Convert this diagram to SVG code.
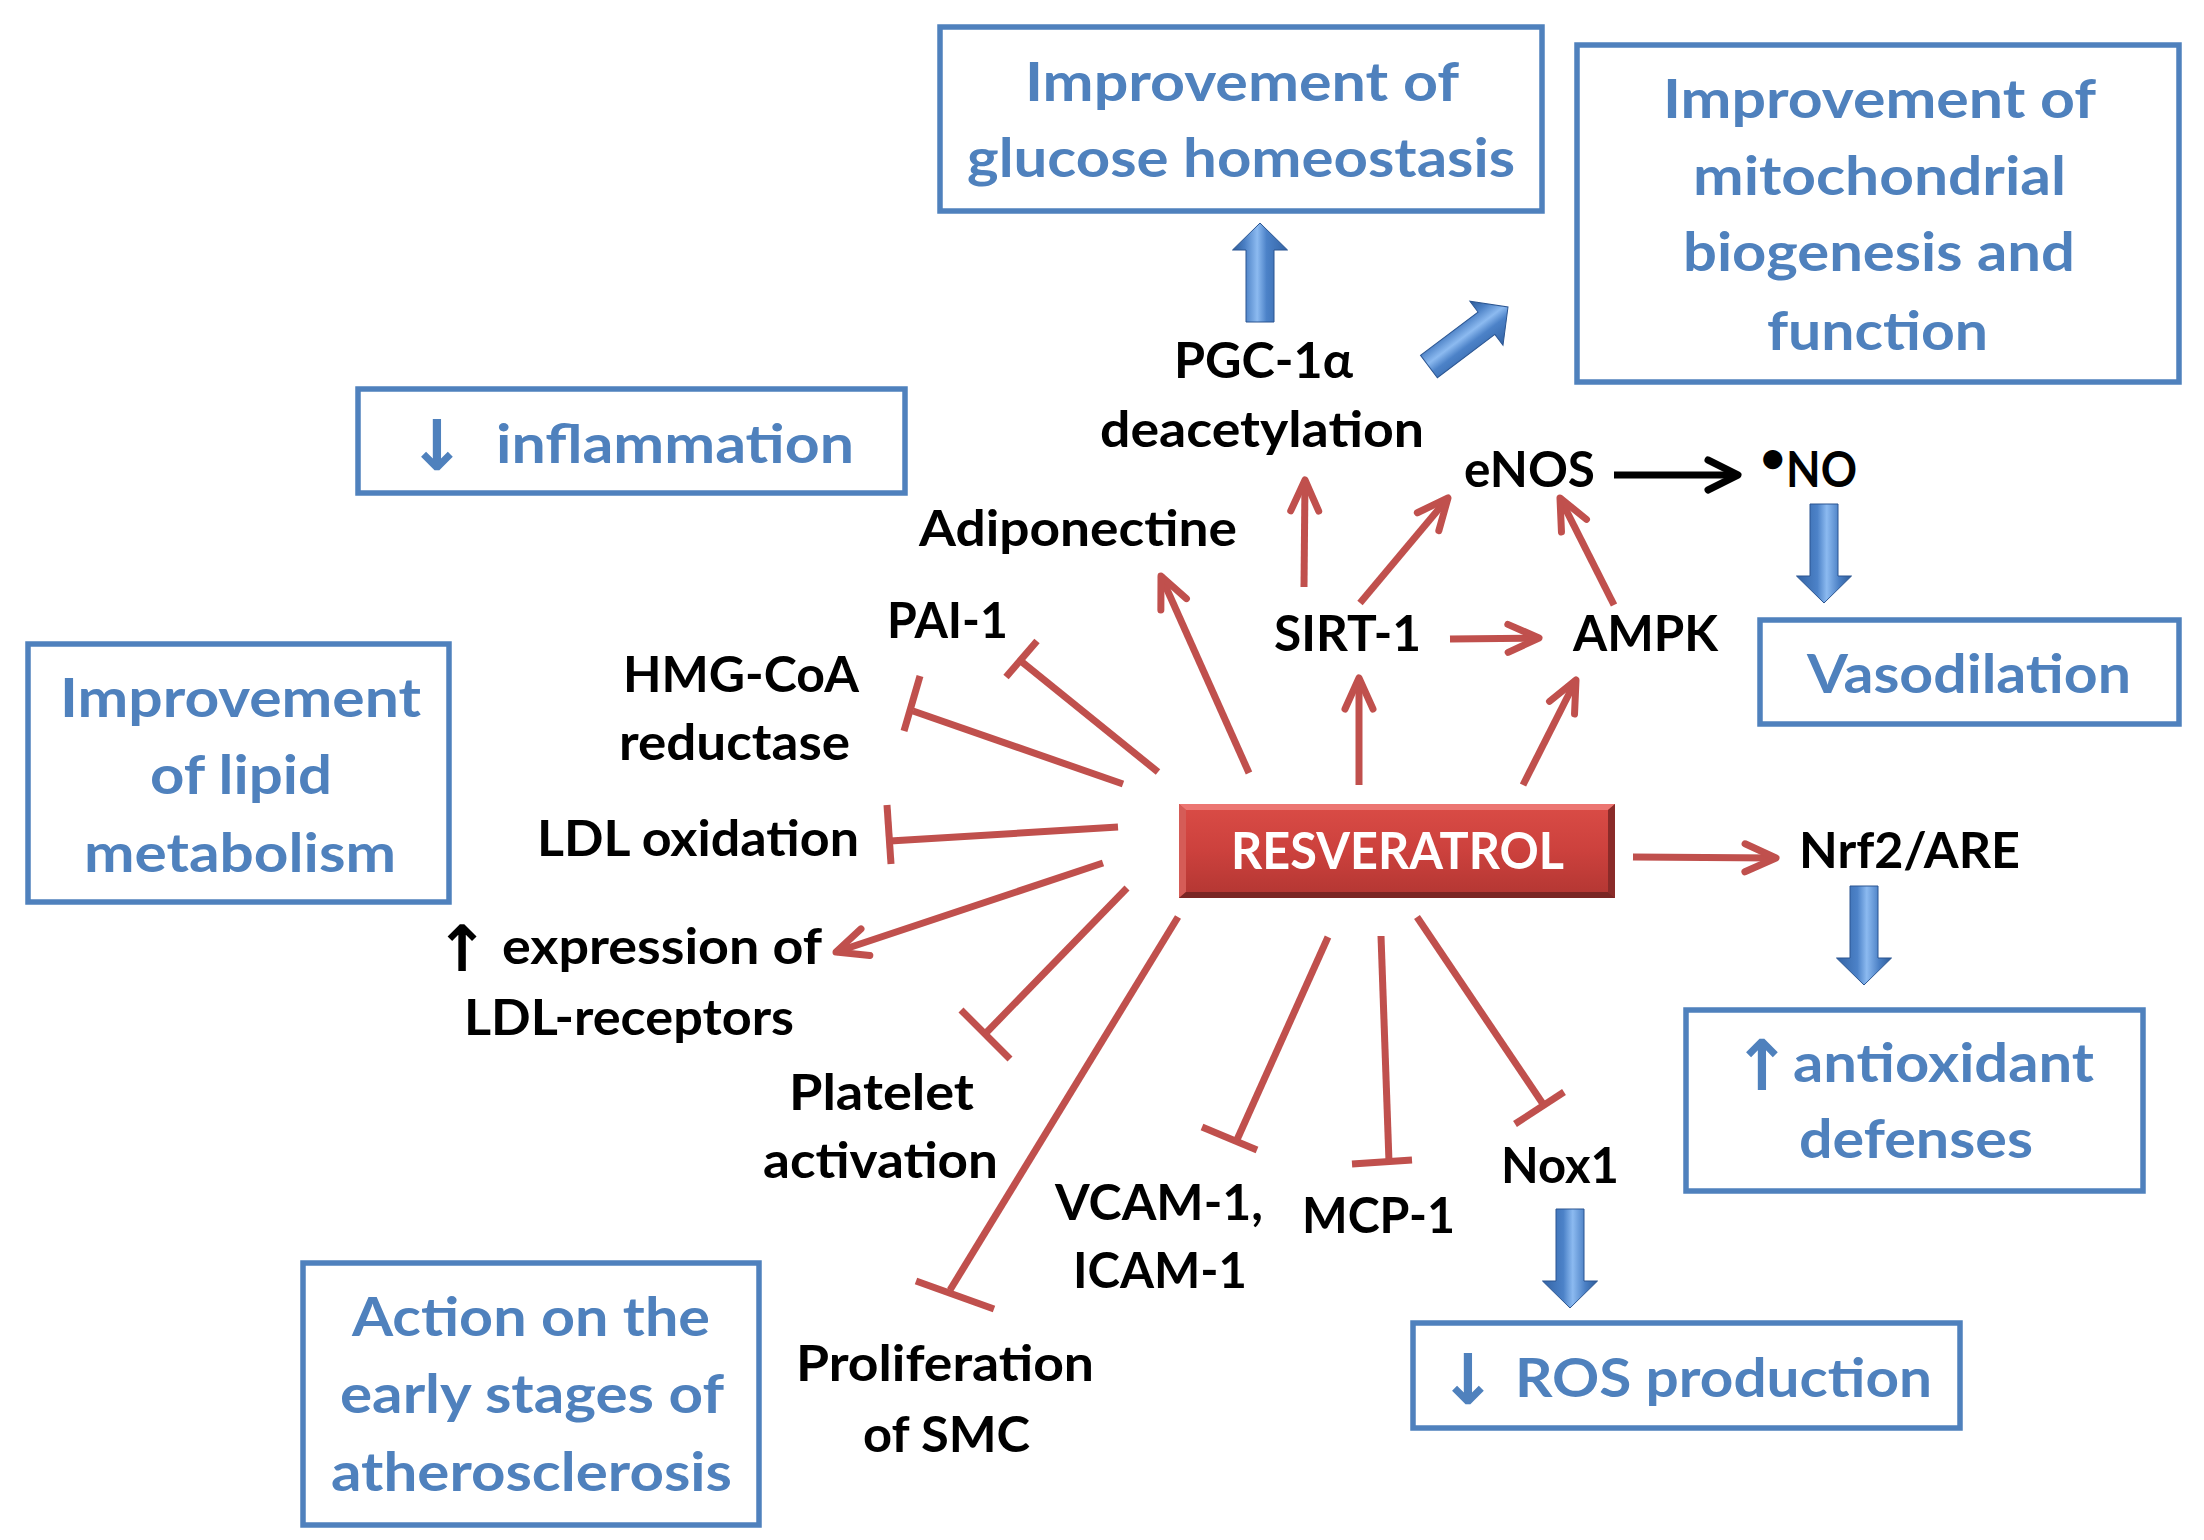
<svg xmlns="http://www.w3.org/2000/svg" xmlns:xlink="http://www.w3.org/1999/xlink" width="2204" height="1540" viewBox="0 0 2204 1540">
<style>
.blue{font-family:Lato,"Open Sans","Liberation Sans",sans-serif;font-weight:700;font-size:54px;fill:#4F81BD}
.blk{font-family:Lato,"Open Sans","Liberation Sans",sans-serif;font-weight:700;font-size:50px;fill:#000}
.wht{font-family:Lato,"Open Sans","Liberation Sans",sans-serif;font-weight:700;font-size:52px;fill:#fff}
.sym{font-family:"DejaVu Sans",sans-serif;font-weight:700;font-size:70px}
.box{fill:#fff;stroke:#4F81BD;stroke-width:5.5}
.act{fill:none;stroke:#C0504D;stroke-width:7;marker-end:url(#ah)}
.inh{fill:none;stroke:#C0504D;stroke-width:7}
.kact{fill:none;stroke:#000;stroke-width:7;marker-end:url(#ahk)}
.barrow{fill:url(#bgrad);stroke:#2B5591;stroke-width:1}
</style>
<defs>
<marker id="ah" markerUnits="userSpaceOnUse" orient="auto" refX="0" refY="0" markerWidth="80" markerHeight="80" overflow="visible">
<path d="M-31,-14 L0,0 L-31,14" fill="none" stroke="#C0504D" stroke-width="7" stroke-linecap="round" stroke-linejoin="round"/>
</marker>
<marker id="ahk" markerUnits="userSpaceOnUse" orient="auto" refX="0" refY="0" markerWidth="80" markerHeight="80" overflow="visible">
<path d="M-30,-15 L0,0 L-30,15" fill="none" stroke="#000" stroke-width="7" stroke-linecap="round" stroke-linejoin="round"/>
</marker>
<linearGradient id="bgrad" x1="0" y1="0" x2="1" y2="0">
<stop offset="0" stop-color="#2C5A96"/>
<stop offset="0.22" stop-color="#4A7FC4"/>
<stop offset="0.45" stop-color="#8CBAF0"/>
<stop offset="0.62" stop-color="#4C82C8"/>
<stop offset="1" stop-color="#3363A4"/>
</linearGradient>
<linearGradient id="rgrad" x1="0" y1="0" x2="0" y2="1">
<stop offset="0" stop-color="#DA4C46"/>
<stop offset="0.5" stop-color="#CC413D"/>
<stop offset="1" stop-color="#B23632"/>
</linearGradient>
<path id="blockarrow" d="M0,0 L27.5,27 L14,27 L14,99 L-14,99 L-14,27 L-27.5,27 Z"/>
</defs>
<rect width="2204" height="1540" fill="#fff"/>

<g id="connectors">
<line class="act" x1="1249" y1="773" x2="1161" y2="576"/>
<line class="act" x1="1359" y1="785" x2="1359" y2="678"/>
<line class="act" x1="1523" y1="785" x2="1576" y2="680"/>
<line class="act" x1="1304" y1="587" x2="1305" y2="480"/>
<line class="act" x1="1360" y1="603" x2="1448" y2="498"/>
<line class="act" x1="1450" y1="639" x2="1539" y2="638"/>
<line class="act" x1="1614" y1="605" x2="1560" y2="498"/>
<line class="act" x1="1633" y1="857" x2="1776" y2="858"/>
<line class="act" x1="1103" y1="863" x2="836" y2="952"/>
<line class="kact" x1="1614" y1="475" x2="1738" y2="475"/>

<line class="inh" x1="1158" y1="772" x2="1022" y2="662"/>
<line class="inh" x1="1006" y1="677" x2="1037" y2="641"/>
<line class="inh" x1="1123" y1="784" x2="913" y2="711"/>
<line class="inh" x1="904" y1="731" x2="920" y2="676"/>
<line class="inh" x1="1118" y1="827" x2="890" y2="841"/>
<line class="inh" x1="891" y1="864" x2="887" y2="805"/>
<line class="inh" x1="1127" y1="888" x2="985" y2="1034"/>
<line class="inh" x1="961" y1="1010" x2="1010" y2="1059"/>
<line class="inh" x1="1178" y1="917" x2="950" y2="1290"/>
<line class="inh" x1="916" y1="1281" x2="994" y2="1309"/>
<line class="inh" x1="1328" y1="937" x2="1236" y2="1142"/>
<line class="inh" x1="1202" y1="1127" x2="1257" y2="1150"/>
<line class="inh" x1="1381" y1="936" x2="1389" y2="1162"/>
<line class="inh" x1="1352" y1="1164" x2="1412" y2="1160"/>
<line class="inh" x1="1417" y1="917" x2="1543" y2="1104"/>
<line class="inh" x1="1515" y1="1124" x2="1564" y2="1092"/>

<use xlink:href="#blockarrow" class="barrow" transform="translate(1260,223)"/>
<use xlink:href="#blockarrow" class="barrow" transform="translate(1508,307) rotate(53)"/>
<use xlink:href="#blockarrow" class="barrow" transform="translate(1824,603) rotate(180)"/>
<use xlink:href="#blockarrow" class="barrow" transform="translate(1864,985) rotate(180)"/>
<use xlink:href="#blockarrow" class="barrow" transform="translate(1570,1308) rotate(180)"/>
</g>

<g id="node-glucose">
<rect class="box" x="940" y="27" width="602" height="184"/>
<text class="blue" x="1025" y="101" textLength="434" lengthAdjust="spacingAndGlyphs">Improvement of</text>
<text class="blue" x="967" y="177" textLength="548" lengthAdjust="spacingAndGlyphs">glucose homeostasis</text>
</g>

<g id="node-mitochondrial">
<rect class="box" x="1577" y="45" width="602" height="337"/>
<text class="blue" x="1663" y="118" textLength="433" lengthAdjust="spacingAndGlyphs">Improvement of</text>
<text class="blue" x="1693" y="195" textLength="373" lengthAdjust="spacingAndGlyphs">mitochondrial</text>
<text class="blue" x="1683" y="271" textLength="392" lengthAdjust="spacingAndGlyphs">biogenesis and</text>
<text class="blue" x="1767" y="350" textLength="221" lengthAdjust="spacingAndGlyphs">function</text>
</g>

<g id="node-inflammation">
<rect class="box" x="358" y="389" width="547" height="104"/>
<text class="blue sym" x="437" y="470" text-anchor="middle">↓</text>
<text class="blue" x="496" y="463" textLength="358" lengthAdjust="spacingAndGlyphs">inflammation</text>
</g>

<g id="node-lipid">
<rect class="box" x="28" y="644" width="421" height="258"/>
<text class="blue" x="60" y="717" textLength="361" lengthAdjust="spacingAndGlyphs">Improvement</text>
<text class="blue" x="150" y="794" textLength="182" lengthAdjust="spacingAndGlyphs">of lipid</text>
<text class="blue" x="84" y="872" textLength="312" lengthAdjust="spacingAndGlyphs">metabolism</text>
</g>

<g id="node-vasodilation">
<rect class="box" x="1760" y="620" width="419" height="104"/>
<text class="blue" x="1807" y="693" textLength="324" lengthAdjust="spacingAndGlyphs">Vasodilation</text>
</g>

<g id="node-antioxidant">
<rect class="box" x="1686" y="1010" width="457" height="181"/>
<text class="blue sym" x="1762" y="1090" text-anchor="middle">↑</text>
<text class="blue" x="1793" y="1082" textLength="301" lengthAdjust="spacingAndGlyphs">antioxidant</text>
<text class="blue" x="1799" y="1158" textLength="234" lengthAdjust="spacingAndGlyphs">defenses</text>
</g>

<g id="node-ros">
<rect class="box" x="1413" y="1323" width="547" height="105"/>
<text class="blue sym" x="1468" y="1404" text-anchor="middle">↓</text>
<text class="blue" x="1515" y="1397" textLength="417" lengthAdjust="spacingAndGlyphs">ROS production</text>
</g>

<g id="node-atherosclerosis">
<rect class="box" x="303" y="1263" width="456" height="262"/>
<text class="blue" x="352" y="1336" textLength="358" lengthAdjust="spacingAndGlyphs">Action on the</text>
<text class="blue" x="340" y="1413" textLength="384" lengthAdjust="spacingAndGlyphs">early stages of</text>
<text class="blue" x="331" y="1491" textLength="401" lengthAdjust="spacingAndGlyphs">atherosclerosis</text>
</g>

<g id="node-resveratrol">
<rect x="1179" y="804" width="436" height="94" fill="url(#rgrad)"/>
<polygon points="1179,804 1615,804 1608,810 1186,810" fill="#EC7672"/>
<polygon points="1179,804 1186,810 1186,892 1179,898" fill="#D55C57"/>
<polygon points="1615,804 1615,898 1608,892 1608,810" fill="#8A2B29"/>
<polygon points="1179,898 1615,898 1608,892 1186,892" fill="#7A2624"/>
<text class="wht" x="1231" y="869" textLength="333" lengthAdjust="spacingAndGlyphs">RESVERATROL</text>
</g>

<g id="node-pgc1a">
<text class="blk" x="1174" y="378" textLength="179" lengthAdjust="spacingAndGlyphs">PGC-1α</text>
<text class="blk" x="1100" y="447" textLength="324" lengthAdjust="spacingAndGlyphs">deacetylation</text>
</g>
<g id="node-enos"><text class="blk" x="1464" y="487" textLength="131" lengthAdjust="spacingAndGlyphs">eNOS</text></g>
<g id="node-no"><text class="blk" x="1760" y="487"><tspan dy="-14" font-size="44">•</tspan><tspan x="1786" dy="14" textLength="71" lengthAdjust="spacingAndGlyphs">NO</tspan></text></g>
<g id="node-adiponectine"><text class="blk" x="919" y="546" textLength="318" lengthAdjust="spacingAndGlyphs">Adiponectine</text></g>
<g id="node-sirt1"><text class="blk" x="1274" y="651" textLength="147" lengthAdjust="spacingAndGlyphs">SIRT-1</text></g>
<g id="node-ampk"><text class="blk" x="1573" y="651" textLength="145" lengthAdjust="spacingAndGlyphs">AMPK</text></g>
<g id="node-pai1"><text class="blk" x="887" y="638" textLength="121" lengthAdjust="spacingAndGlyphs">PAI-1</text></g>
<g id="node-hmgcoa">
<text class="blk" x="623" y="692" textLength="236" lengthAdjust="spacingAndGlyphs">HMG-CoA</text>
<text class="blk" x="619" y="760" textLength="231" lengthAdjust="spacingAndGlyphs">reductase</text>
</g>
<g id="node-ldlox"><text class="blk" x="537" y="856" textLength="322" lengthAdjust="spacingAndGlyphs">LDL oxidation</text></g>
<g id="node-ldlr">
<text class="blk sym" x="462" y="971" text-anchor="middle" style="font-size:64px">↑</text>
<text class="blk" x="502" y="964" textLength="320" lengthAdjust="spacingAndGlyphs">expression of</text>
<text class="blk" x="464" y="1035" textLength="330" lengthAdjust="spacingAndGlyphs">LDL-receptors</text>
</g>
<g id="node-platelet">
<text class="blk" x="789" y="1110" textLength="185" lengthAdjust="spacingAndGlyphs">Platelet</text>
<text class="blk" x="763" y="1178" textLength="235" lengthAdjust="spacingAndGlyphs">activation</text>
</g>
<g id="node-vcam">
<text class="blk" x="1055" y="1220" textLength="208" lengthAdjust="spacingAndGlyphs">VCAM-1,</text>
<text class="blk" x="1073" y="1288" textLength="174" lengthAdjust="spacingAndGlyphs">ICAM-1</text>
</g>
<g id="node-mcp1"><text class="blk" x="1302" y="1233" textLength="153" lengthAdjust="spacingAndGlyphs">MCP-1</text></g>
<g id="node-nox1"><text class="blk" x="1501" y="1183" textLength="118" lengthAdjust="spacingAndGlyphs">Nox1</text></g>
<g id="node-nrf2"><text class="blk" x="1799" y="868" textLength="221" lengthAdjust="spacingAndGlyphs">Nrf2/ARE</text></g>
<g id="node-smc">
<text class="blk" x="796" y="1381" textLength="298" lengthAdjust="spacingAndGlyphs">Proliferation</text>
<text class="blk" x="863" y="1452" textLength="167" lengthAdjust="spacingAndGlyphs">of SMC</text>
</g>
</svg>
